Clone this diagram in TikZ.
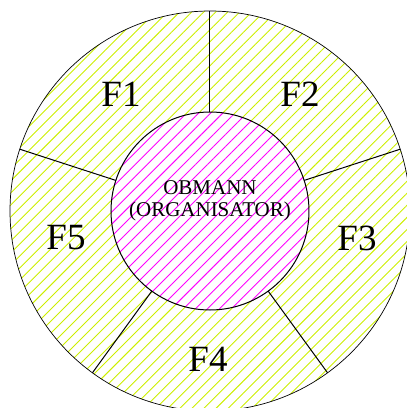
\documentclass[tikz,border=0pt]{standalone}
\usepackage{fontspec}
\setmainfont{Liberation Serif}
\usetikzlibrary{patterns.meta}
\definecolor{cLime}{RGB}{204,238,0}
\definecolor{cMagenta}{RGB}{255,0,255}

\begin{document}
\begin{tikzpicture}[
  x=1pt, y=1pt,
  hatch/.style={pattern={Lines[angle=45, distance=8.5pt, line width=0.9pt]}},
  hub/.style={circle, draw, line width=1pt, minimum size=198pt,
              inner sep=0pt, outer sep=0pt, preaction={fill=white},
              hatch, pattern color=cMagenta},
  divider/.style={draw, line width=1pt},
  field/.style={font=\fontsize{37}{40}\selectfont, inner sep=0pt}
]

\clip (-210,-197) rectangle (197,211);

%% -- rings -------------------------------------------------------------------

\path[draw, line width=0.7pt, hatch, pattern color=cLime]
  (0,0) circle[radius=200pt];

\node[hub] (hub) at (0,0) {};

\node[font=\fontsize{21}{22.5}\selectfont, align=center] (obmann) at (0,10)
  {OBMANN\\(ORGANISATOR)};

%% -- dividers ----------------------------------------------------------------

\foreach \a in {18,90,162,234,306}
  \coordinate (rim\a) at (\a:200pt);
\foreach \a in {18,90,162,234,306}
  \draw[divider] (hub.\a) -- (rim\a);

%% -- fields ------------------------------------------------------------------

\node[field] (f1) at (-89,117) {F1};
\node[field] (f2) at (90,117)  {F2};
\node[field] (f3) at (147,-27) {F3};
\node[field] (f4) at (-2,-148) {F4};
\node[field] (f5) at (-144,-27) {F5};

\end{tikzpicture}
\end{document}
